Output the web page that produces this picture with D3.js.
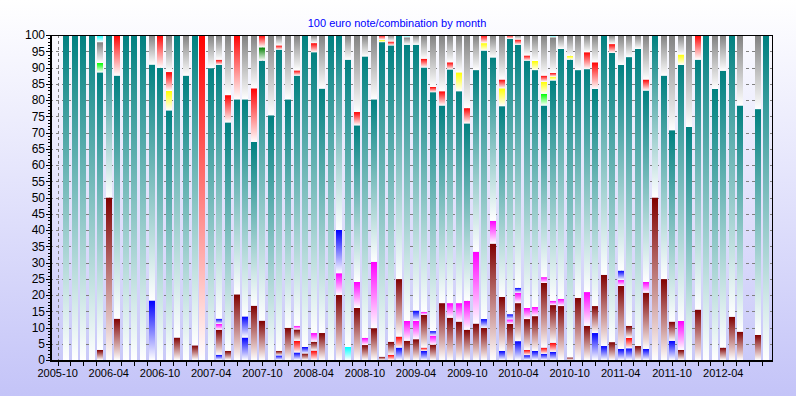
<!DOCTYPE html>
<html>
<head>
<meta charset="utf-8">
<script src="https://cdnjs.cloudflare.com/ajax/libs/d3/7.8.5/d3.min.js"></script>
<style>
  body { margin: 0; background: #fff; }
  text { font-family: "Liberation Sans", Arial, sans-serif; }
</style>
</head>
<body>
<svg id="chart" width="796" height="396"></svg>
<script>
// Months shown as bars: 2005-11 .. 2012-09 (83 bars, 2012-07 has no data)
const months = d3.timeMonth.range(new Date(2005, 10, 1), new Date(2012, 9, 1));
const tickLabels = ["2005-10", "2006-04", "2006-10", "2007-04", "2007-10", "2008-04", "2008-10",
  "2009-04", "2009-10", "2010-04", "2010-10", "2011-04", "2011-10", "2012-04"];

// Share (%) of each combination per month, listed bottom to top of the stack.
// rows of ten months each
const blueA = [
  0, 0, 0, 0, 0, 0, 0, 0, 0, 0,
  18.3, 0, 0, 0, 0, 0, 0, 0, 1.6, 0,
  0, 6.9, 0, 0, 0, 1.4, 0, 2.3, 0, 0,
  0, 0, 0, 0, 0, 0, 0, 0, 0, 3.8,
  0, 0, 2.8, 0, 0, 0, 0, 0, 0, 0,
  0, 2.8, 0, 5.8, 1.5, 2.8, 1.9, 2.5, 0, 0,
  0, 0, 8.3, 4.3, 0, 3.4, 3.6, 0, 3.4, 0,
  0, 5.9, 0, 0, 0, 0, 0, 0, 0, 0,
  null, 0, 0];
const redA = [
  0, 0, 0, 0, 0, 0, 0, 0, 0, 0,
  0, 0, 0, 0, 0, 0, 0, 0, 0, 0,
  0, 0, 0, 0, 0, 0, 0, 3.6, 0, 2.9,
  0, 0, 0, 0, 0, 0, 0, 0, 1.6, 3.4,
  0, 0, 1.0, 0, 0, 0, 0, 0, 0, 0,
  0, 0, 0, 0, 1.6, 0, 1.9, 2.8, 0, 0,
  0, 0, 0, 0, 0, 0, 3.2, 0, 0, 0,
  0, 0, 0, 0, 0, 0, 0, 0, 0, 0,
  null, 0, 0];
const maroon = [
  0, 0, 0, 0, 3.1, 50, 12.7, 0, 0, 0,
  0, 0, 0, 6.9, 0, 4.5, 0, 0, 7.7, 2.8,
  20.2, 0, 16.7, 12.1, 0, 1.4, 9.9, 3.5, 2.0, 2.7,
  8.3, 0, 20, 0, 16.0, 4.6, 9.8, 1.0, 4.0, 17.7,
  5.9, 6.4, 10.1, 4.7, 17.5, 13.0, 11.8, 9.3, 11.2, 9.9,
  35.8, 16.6, 11.1, 11.7, 9.5, 10.7, 19.9, 11.6, 16.6, 0.8,
  19.1, 10.5, 8.3, 21.9, 5.5, 19.4, 3.7, 4.3, 17.3, 50,
  24.9, 5.9, 3.1, 0, 15.5, 0, 0, 3.8, 13.3, 8.7,
  null, 7.7, 0];
const magenta = [
  0, 0, 0, 0, 0, 0, 0, 0, 0, 0,
  0, 0, 0, 0, 0, 0, 0, 0, 1.8, 0,
  0, 0, 0, 0, 0, 0, 0, 1.1, 0, 2.7,
  0, 0, 6.7, 0, 8.0, 2.2, 20.4, 0, 0, 0,
  6.1, 5.6, 0.9, 2.8, 0, 4.5, 5.7, 8.9, 22.1, 0,
  7.0, 0, 1.4, 3.2, 3.4, 2.8, 1.8, 1.3, 2.2, 0,
  0, 10.4, 0, 0, 0, 1.8, 0, 0, 3.3, 0,
  0, 0, 8.9, 0, 0, 0, 0, 0, 0, 0,
  null, 0, 0];
const blueB = [
  0, 0, 0, 0, 0, 0, 0, 0, 0, 0,
  0, 0, 0, 0, 0, 0, 0, 0, 1.6, 0,
  0, 6.5, 0, 0, 0, 0, 0, 0, 2.0, 0,
  0, 0, 13.3, 0, 0, 0, 0, 0, 0, 0,
  0, 3.2, 0, 1.4, 0, 0, 0, 0, 0, 2.7,
  0, 0, 1.6, 1.5, 0, 0, 0, 0, 0, 0,
  0, 0, 0, 0, 0, 2.9, 0, 0, 0, 0,
  0, 0, 0, 0, 0, 0, 0, 0, 0, 0,
  null, 0, 0];
const cyanA = [
  0, 0, 0, 0, 0, 0, 0, 0, 0, 0,
  0, 0, 0, 0, 0, 0, 0, 0, 0, 0,
  0, 0, 0, 0, 0, 0, 0, 0, 0, 0,
  0, 0, 0, 4.0, 0, 0, 0, 0, 0, 0,
  0, 0, 0, 0, 0, 0, 0, 0, 0, 0,
  0, 0, 0, 0, 0, 0, 0, 0, 0, 0,
  0, 0, 0, 0, 0, 0, 0, 0, 0, 0,
  0, 0, 0, 0, 0, 0, 0, 0, 0, 0,
  null, 0, 0];
const teal = [
  100, 100, 100, 100, 85.4, 50, 74.8, 100, 100, 100,
  72.6, 89.9, 76.8, 93.1, 87.5, 95.5, 0, 89.8, 78.1, 70.3,
  60.0, 66.8, 50.4, 80.0, 75.3, 92.7, 70.3, 77.0, 96.0, 86.4,
  75.2, 100, 60, 88.4, 48.2, 86.6, 50.0, 96.8, 91.2, 75.1,
  85.0, 81.8, 75.2, 73.5, 60.8, 71.9, 65.2, 54.6, 55.9, 82.6,
  50.3, 58.7, 84.7, 74.8, 76.1, 72.9, 52.8, 67.8, 76.9, 91.6,
  70.1, 68.6, 66.8, 73.8, 89.0, 63.3, 82.7, 91.4, 58.9, 50,
  62.6, 58.9, 78.8, 71.7, 76.9, 100, 83.4, 85.2, 86.7, 69.6,
  null, 69.5, 100];
const lime = [
  0, 0, 0, 0, 2.9, 0, 0, 0, 0, 0,
  0, 0, 0, 0, 0, 0, 0, 0, 0, 0,
  0, 0, 0, 0, 0, 0, 0, 0, 0, 0,
  0, 0, 0, 0, 0, 0, 0, 0, 0, 0,
  0, 0, 0, 0, 0, 0, 0, 0, 0, 0,
  0, 0, 0, 0, 0, 0, 3.6, 0, 0, 0,
  0, 0, 0, 0, 0, 0, 0, 0, 0, 0,
  0, 0, 0, 0, 0, 0, 0, 0, 0, 0,
  null, 0, 0];
const green = [
  0, 0, 0, 0, 0, 0, 0, 0, 0, 0,
  0, 0, 0, 0, 0, 0, 0, 0, 0, 0,
  0, 0, 0, 4.1, 0, 0, 0, 0, 0, 0,
  0, 0, 0, 0, 0, 0, 0, 0, 0, 0,
  0, 0, 0, 0, 0, 0, 0, 0, 0, 0,
  0, 0, 0, 0, 0, 0, 0, 0, 0, 0,
  0, 0, 0, 0, 0, 0, 0, 0, 0, 0,
  0, 0, 0, 0, 0, 0, 0, 0, 0, 0,
  null, 0, 0];
const yellow = [
  0, 0, 0, 0, 0, 0, 0, 0, 0, 0,
  0, 0, 6.0, 0, 0, 0, 0, 0, 0, 0,
  0, 0, 0, 0, 0, 0, 0, 0, 0, 0,
  0, 0, 0, 0, 0, 0, 0, 0.7, 0, 0,
  0, 0, 0, 0, 0, 0, 5.8, 0, 0, 2.3,
  0, 5.5, 0, 0, 0, 2.8, 3.7, 1.2, 0, 1.2,
  0, 0, 0, 0, 0, 0, 0, 0, 0, 0,
  0, 0, 3.2, 0, 0, 0, 0, 0, 0, 0,
  null, 0, 0];
const redB = [
  0, 0, 0, 0, 0, 0, 12.5, 0, 0, 0,
  0, 10.1, 5.8, 0, 0, 0, 100, 0, 1.6, 8.4,
  19.8, 0, 16.5, 3.8, 0, 1.3, 0, 1.6, 0, 2.8,
  0, 0, 0, 0, 4.1, 0, 0, 1.5, 1.2, 0,
  0, 0, 2.7, 1.6, 4.4, 2.2, 0, 4.7, 0, 2.5,
  0, 2.7, 1.2, 1.6, 1.6, 0, 1.9, 1.1, 0, 0,
  0, 5.2, 8.2, 0, 2.7, 0, 0, 0, 3.4, 0,
  0, 0, 0, 0, 7.6, 0, 0, 0, 0, 0,
  null, 0, 0];
const gray = [
  0, 0, 0, 0, 6.4, 0, 0, 0, 0, 0,
  9.1, 0, 11.4, 0, 12.5, 0, 0, 10.2, 7.6, 18.5,
  0, 19.8, 16.4, 0, 24.7, 3.2, 19.8, 10.9, 0, 2.5,
  16.5, 0, 0, 7.6, 23.7, 6.6, 19.8, 0, 2.0, 0,
  2.3, 3.0, 7.3, 16.0, 17.3, 8.4, 11.5, 22.5, 10.8, 0,
  6.9, 13.7, 0, 1.4, 6.3, 8.0, 12.5, 11.0, 4.3, 6.4,
  10.8, 5.3, 8.4, 0, 2.8, 9.2, 6.8, 4.3, 13.7, 0,
  12.5, 29.3, 6.0, 28.3, 0, 0, 16.6, 11.0, 0, 21.7,
  null, 22.8, 0];
const cyanB = [
  0, 0, 0, 0, 2.2, 0, 0, 0, 0, 0,
  0, 0, 0, 0, 0, 0, 0, 0, 0, 0,
  0, 0, 0, 0, 0, 0, 0, 0, 0, 0,
  0, 0, 0, 0, 0, 0, 0, 0, 0, 0,
  0.7, 0, 0, 0, 0, 0, 0, 0, 0, 0,
  0, 0, 0, 0, 0, 0, 0, 0.7, 0, 0,
  0, 0, 0, 0, 0, 0, 0, 0, 0, 0,
  0, 0, 0, 0, 0, 0, 0, 0, 0, 0,
  null, 0, 0];

const seriesValues = { blueA, redA, maroon, magenta, blueB, cyanA, teal, lime, green, yellow, redB, gray, cyanB };
const seriesKeys = Object.keys(seriesValues);

// Top colour of each series; every segment fades to white towards its bottom
const seriesColors = {
  blueA: "#0000ff", redA: "#ff0000", maroon: "#800000", magenta: "#ff00ff",
  blueB: "#0000ff", cyanA: "#00ffff", teal: "#008080", lime: "#00ff00",
  green: "#008000", yellow: "#ffff00", redB: "#ff0000", gray: "#808080", cyanB: "#00ffff"
};

const W = 796, H = 396;
const plot = { left: 50, right: 772, top: 35, bottom: 360 };
const barWidth = 6;

const svg = d3.select("#chart");
const defs = svg.append("defs");

// Page background: white at the top, lavender at the bottom
const bg = defs.append("linearGradient").attr("id", "bg")
  .attr("x1", 0).attr("y1", 0).attr("x2", 0).attr("y2", 1);
bg.append("stop").attr("offset", "0%").attr("stop-color", "#ffffff");
bg.append("stop").attr("offset", "100%").attr("stop-color", "#c4c4f8");
svg.append("rect").attr("width", W).attr("height", H).attr("fill", "url(#bg)");

seriesKeys.forEach((k) => {
  const lg = defs.append("linearGradient").attr("id", `grad-${k}`)
    .attr("x1", 0).attr("y1", 0).attr("x2", 0).attr("y2", 1);
  lg.append("stop").attr("offset", "0%").attr("stop-color", seriesColors[k]);
  lg.append("stop").attr("offset", "100%").attr("stop-color", "#ffffff");
});

const parseMonth = d3.timeParse("%Y-%m");
const tickDates = tickLabels.map(parseMonth);

const x = d3.scaleTime()
  .domain([tickDates[0], tickDates[tickDates.length - 1]])
  .range([57.7, 723.3]);
const y = d3.scaleLinear().domain([0, 100]).range([plot.bottom, plot.top]);

// Grid lines (behind the bars)
const grid = svg.append("g").attr("stroke", "#808080").attr("stroke-dasharray", "3,3");
grid.selectAll("line.h")
  .data(d3.range(5, 100, 5))
  .join("line")
  .attr("class", "h")
  .attr("x1", plot.left).attr("x2", plot.right)
  .attr("y1", (d) => Math.round(y(d)) + 0.5).attr("y2", (d) => Math.round(y(d)) + 0.5);
grid.selectAll("line.v")
  .data(tickDates)
  .join("line")
  .attr("class", "v")
  .attr("x1", (d) => Math.round(x(d)) + 0.5).attr("x2", (d) => Math.round(x(d)) + 0.5)
  .attr("y1", plot.top).attr("y2", plot.bottom);

// Stacked bars
const rows = months.map((m, i) => {
  const r = { month: m };
  seriesKeys.forEach((k) => { r[k] = seriesValues[k][i] ?? 0; });
  return r;
});
const stacked = d3.stack().keys(seriesKeys)(rows);

svg.append("g")
  .selectAll("g")
  .data(stacked)
  .join("g")
  .attr("fill", (d) => `url(#grad-${d.key})`)
  .selectAll("rect")
  .data((d) => d.filter((s) => s[1] - s[0] > 0))
  .join("rect")
  .attr("x", (d) => Math.round(x(d.data.month) - barWidth / 2))
  .attr("width", barWidth)
  .attr("y", (d) => y(d[1]))
  .attr("height", (d) => y(d[0]) - y(d[1]));

// Frame
svg.append("line").attr("x1", plot.left).attr("x2", plot.right)
  .attr("y1", plot.top + 0.5).attr("y2", plot.top + 0.5).attr("stroke", "#000");
svg.append("line").attr("x1", plot.right + 0.5).attr("x2", plot.right + 0.5)
  .attr("y1", plot.top).attr("y2", plot.bottom).attr("stroke", "#000");

// Y axis
const yAxis = svg.append("g");
yAxis.append("line").attr("x1", plot.left + 1).attr("x2", plot.left + 1)
  .attr("y1", plot.top).attr("y2", plot.bottom + 2)
  .attr("stroke", "#000").attr("stroke-width", 2);
yAxis.selectAll("line.minor")
  .data(d3.range(0, 101, 1))
  .join("line")
  .attr("class", "minor")
  .attr("x1", (d) => (d % 5 === 0 ? plot.left - 4 : plot.left - 2)).attr("x2", plot.left)
  .attr("y1", (d) => Math.round(y(d)) + 0.5).attr("y2", (d) => Math.round(y(d)) + 0.5)
  .attr("stroke", "#000");
yAxis.selectAll("text")
  .data(d3.range(0, 101, 5))
  .join("text")
  .attr("x", plot.left - 5)
  .attr("y", (d) => y(d))
  .attr("dy", "0.36em")
  .attr("text-anchor", "end")
  .attr("font-size", 12)
  .attr("fill", "#000")
  .text((d) => d);

// X axis
const xAxis = svg.append("g");
xAxis.append("line").attr("x1", plot.left).attr("x2", plot.right + 1)
  .attr("y1", plot.bottom + 1).attr("y2", plot.bottom + 1)
  .attr("stroke", "#000").attr("stroke-width", 2);

const step = (x(tickDates[1]) - x(tickDates[0])) / 4;
const tickXs = [];
tickDates.forEach((d) => {
  for (let k = 0; k < 4; k++) {
    const px = x(d) + k * step;
    if (px < plot.right) tickXs.push(px);
  }
});
xAxis.selectAll("line.tick")
  .data(tickXs)
  .join("line")
  .attr("class", "tick")
  .attr("x1", (d) => Math.round(d) + 0.5).attr("x2", (d) => Math.round(d) + 0.5)
  .attr("y1", plot.bottom + 2).attr("y2", plot.bottom + 6)
  .attr("stroke", "#000");
xAxis.selectAll("text")
  .data(tickLabels)
  .join("text")
  .attr("x", (d) => x(parseMonth(d)))
  .attr("y", 377)
  .attr("text-anchor", "middle")
  .attr("font-size", 11)
  .attr("fill", "#000")
  .text((d) => d);

// Title
svg.append("text")
  .attr("x", 397)
  .attr("y", 27)
  .attr("text-anchor", "middle")
  .attr("font-size", 11)
  .attr("fill", "#0000ff")
  .text("100 euro note/combination by month");
</script>
</body>
</html>
